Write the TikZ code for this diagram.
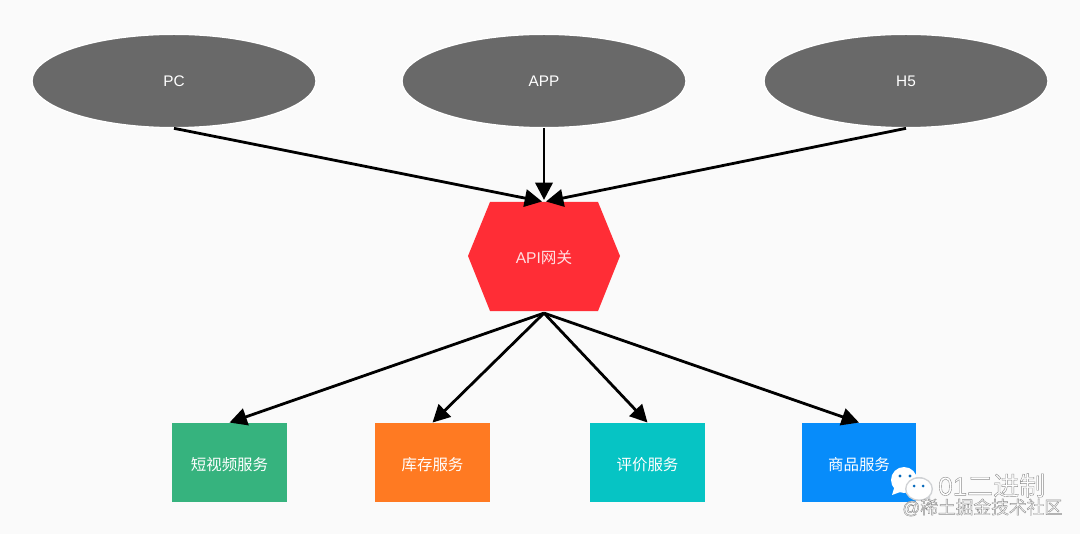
\documentclass[tikz,border=0pt]{standalone}
\usepackage{fontspec}
\setmainfont{Liberation Sans}
\newfontfamily\cjk{Noto Sans CJK SC}
\usetikzlibrary{shapes.geometric,arrows.meta}
\definecolor{bgc}{HTML}{FAFAFA}
\definecolor{clientc}{HTML}{696969}
\definecolor{apic}{HTML}{FF2D36}
\definecolor{svcA}{HTML}{36B37E}
\definecolor{svcB}{HTML}{FF7A22}
\definecolor{svcC}{HTML}{06C4C4}
\definecolor{svcD}{HTML}{078CFA}
\definecolor{wmgray}{HTML}{8A8F96}
\newcommand{\outlined}[1]{\special{pdf:code q 2 Tr 0.55 G 0.3 w}#1\special{pdf:code Q}}
\newcommand{\svclabel}[1]{\raisebox{0pt}[1.1em][0.1em]{#1}}
\tikzset{
  client/.style={ellipse,fill=clientc,draw=white,line width=1pt,minimum width=213pt,minimum height=70pt,inner sep=0pt,text=white,font=\fontsize{11.5}{13}\selectfont},
  service/.style={rectangle,minimum width=86pt,minimum height=59.5pt,inner sep=0pt,text=white,font=\cjk\fontsize{11.6}{13}\selectfont},
  conn/.style={line width=2.1pt,black,-{Triangle[length=13pt,width=13pt]}},
  wm/.style={inner sep=0pt,anchor=west,text=white},
}
\begin{document}
\begin{tikzpicture}[x=0.75pt,y=-0.75pt]
\useasboundingbox (0,0) rectangle (1080,534);
\fill[bgc] (0,0) rectangle (1080,534);
\node[client] (pc) at (174,81) {PC};
\node[client] (app) at (544,81) {APP};
\node[client] (h5) at (906,81) {H5};
\fill[apic] (468,256) -- (490,202) -- (598,202) -- (620,256) -- (598,311) -- (490,311) -- cycle;
\node[inner sep=0pt,minimum width=114pt,minimum height=83pt,text=white!85!apic,font=\fontsize{11.7}{13}\selectfont] (api) at (544,257.5) {API{\cjk 网关}};
\node[service,fill=svcA] (s1) at (229.5,462.5) {\svclabel{短视频服务}};
\node[service,fill=svcB] (s2) at (432.5,462.5) {\svclabel{库存服务}};
\node[service,fill=svcC] (s3) at (647.5,462.5) {\svclabel{评价服务}};
\node[service,fill=svcD] (s4) at (859,462.5) {\svclabel{商品服务}};
\draw[conn,shorten >=1.5pt] (pc.south) -- (api.north);
\draw[conn,shorten >=1.5pt] (app.south) -- (api.north);
\draw[conn,shorten >=1.5pt] (h5.south) -- (api.north);
\draw[conn] (api.south) -- (s1.north);
\draw[conn] (api.south) -- (s2.north);
\draw[conn] (api.south) -- (s3.north);
\draw[conn] (api.south) -- (s4.north);
% WeChat mark
\fill[white] (892,495) -- (895,485) -- (903,491) -- cycle;
\fill[white] (904,480) ellipse [x radius=13, y radius=13];
\fill[svcD!75!black] (900,476) circle (1.7) (910,476) circle (1.7);
\fill[wmgray!40!white] (926,497) -- (930,502) -- (930,492) -- cycle;
\fill[wmgray!40!white] (919,489) ellipse [x radius=14, y radius=12];
\fill[white] (919,489) ellipse [x radius=12.5, y radius=10.5];
\fill[svcD!75!black] (914,486) circle (1.5) (923,486) circle (1.5);
% Watermark text
\node[wm,font=\fontsize{19.5}{21}\selectfont] (w1) at (938,485.5) {\outlined{01{\cjk 二进制}}};
\node[wm,font=\fontsize{13.3}{14}\selectfont] (w2) at (902,507.5) {\outlined{@{\cjk 稀土掘金技术社区}}};
\end{tikzpicture}
\end{document}
